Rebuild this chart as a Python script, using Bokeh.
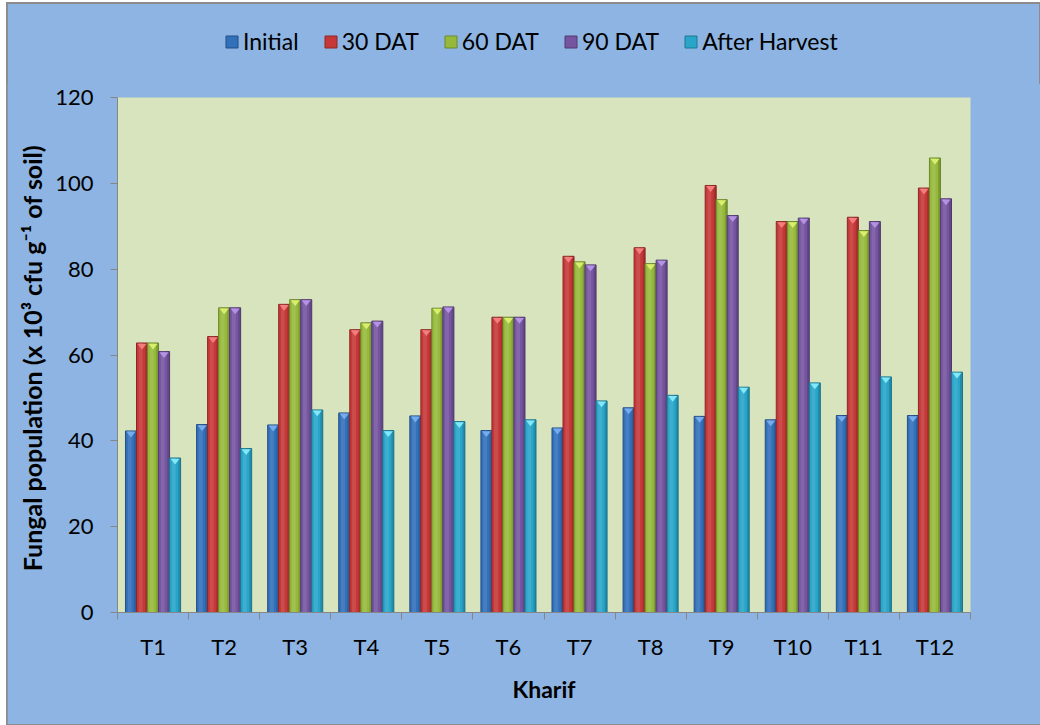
from bokeh.plotting import figure
from bokeh.layouts import column
from bokeh.models import FixedTicker, Legend, LegendItem, ColumnDataSource
from bokeh.embed import file_html
from bokeh.resources import INLINE

categories = ["T1", "T2", "T3", "T4", "T5", "T6", "T7", "T8", "T9", "T10", "T11", "T12"]
series_names = ["Initial", "30 DAT", "60 DAT", "90 DAT", "After Harvest"]
initial = [42.3, 43.8, 43.7, 46.5, 45.8, 42.4, 43.0, 47.7, 45.7, 44.9, 45.9, 45.9]
dat30 = [62.8, 64.3, 71.8, 65.9, 65.9, 68.8, 83.0, 85.0, 99.5, 91.1, 92.1, 98.9]
dat60 = [62.8, 71.0, 72.9, 67.5, 70.9, 68.8, 81.7, 81.3, 96.2, 91.1, 89.0, 105.9]
dat90 = [60.8, 71.0, 72.9, 67.9, 71.2, 68.8, 81.0, 82.1, 92.5, 91.9, 91.1, 96.4]
after_harvest = [36.0, 38.2, 47.2, 42.4, 44.5, 44.9, 49.3, 50.6, 52.5, 53.5, 54.9, 56.0]
y_ticks = [0, 20, 40, 60, 80, 100, 120]

series = [initial, dat30, dat60, dat90, after_harvest]
fills = ["#3370BA", "#C63838", "#96B93C", "#7555A0", "#28A5C8"]
edges = ["#234F85", "#8E2626", "#6A8A2A", "#523B73", "#1C7890"]
lights = ["#79AEF0", "#F58080", "#DDF070", "#B795E6", "#86EAFB"]

FONT = "Lato"
BG = "#8DB4E2"
PLOT_BG = "#D7E4BD"
AXIS = "#868686"

bw = 0.155
xs_by_series = [[i + 0.5 + (k - 2) * bw for i in range(len(categories))] for k in range(len(series))]

# ---- legend strip (top) ----
lg = figure(width=1033, height=80, output_backend="svg", toolbar_location=None,
            x_range=(0, len(categories)), y_range=(0, 120), x_axis_type=None, y_axis_type=None,
            min_border_left=110, min_border_right=70, min_border_top=0, min_border_bottom=0,
            background_fill_color=None, border_fill_color=None, outline_line_color=None)
lg.grid.visible = False
legend_renderers = []
for k in range(len(series)):
    r = lg.vbar(x=xs_by_series[k], top=series[k], width=bw,
                fill_color=fills[k], line_color=edges[k], visible=False)
    legend_renderers.append(r)
legend = Legend(items=[LegendItem(label=n, renderers=[r]) for n, r in zip(series_names, legend_renderers)],
                orientation="horizontal", location=(107, 28),
                glyph_width=15, glyph_height=15, label_standoff=4, spacing=24,
                padding=0, margin=0, border_line_color=None, background_fill_alpha=0,
                inactive_fill_alpha=0, click_policy="none",
                label_text_font=FONT, label_text_font_size="23px", label_text_color="black")
lg.add_layout(legend, "center")

# ---- main chart ----
p = figure(width=1033, height=641, output_backend="svg", toolbar_location=None,
           x_range=(0, len(categories)), y_range=(0, 120),
           min_border_left=110, min_border_right=70, min_border_top=14, min_border_bottom=112,
           background_fill_color=PLOT_BG, border_fill_color=BG, outline_line_color=None)
p.grid.visible = False

for k, vals in enumerate(series):
    xs = xs_by_series[k]
    src = ColumnDataSource(dict(x=xs, top=vals))
    p.vbar(x="x", top="top", width=bw, bottom=0, source=src,
           fill_color=fills[k], line_color=edges[k], line_width=1)
    # cylinder highlight
    p.vbar(x=[x - bw * 0.12 for x in xs], top=vals, width=bw * 0.35, bottom=0,
           fill_color="white", fill_alpha=0.10, line_color=None)
    p.vbar(x=[x + bw * 0.38 for x in xs], top=vals, width=bw * 0.2, bottom=0,
           fill_color="black", fill_alpha=0.15, line_color=None)
    # bevel cap triangle
    tx = [[x - bw * 0.42, x + bw * 0.42, x] for x in xs]
    ty = [[v - 0.15, v - 0.15, v - 1.5] for v in vals]
    p.patches(tx, ty, fill_color=lights[k], line_color=None, fill_alpha=0.95)

xax = p.xaxis[0]
xax.ticker = FixedTicker(ticks=[i + 0.5 for i in range(len(categories))],
                         minor_ticks=list(range(len(categories) + 1)))
xax.major_label_overrides = {i + 0.5: c for i, c in enumerate(categories)}
xax.major_tick_out = 0
xax.major_tick_in = 0
xax.minor_tick_out = 7
xax.minor_tick_in = 0
xax.minor_tick_line_color = AXIS
xax.axis_line_color = AXIS
xax.major_label_standoff = 13
xax.major_label_text_font = FONT
xax.major_label_text_font_size = "22px"
xax.major_label_text_color = "black"
xax.axis_label = "Kharif"
xax.axis_label_text_font = FONT
xax.axis_label_text_font_size = "23px"
xax.axis_label_text_font_style = "bold"
xax.axis_label_text_color = "black"
xax.axis_label_standoff = 12

yax = p.yaxis[0]
yax.ticker = FixedTicker(ticks=y_ticks)
yax.major_tick_out = 7
yax.major_tick_in = 0
yax.minor_tick_out = 0
yax.minor_tick_in = 0
yax.major_tick_line_color = AXIS
yax.axis_line_color = AXIS
yax.major_label_standoff = 17
yax.major_label_text_font = FONT
yax.major_label_text_font_size = "22px"
yax.major_label_text_color = "black"
yax.axis_label = "Fungal population (x 10\u00b3 cfu g\u207b\u00b9  of soil)"
yax.axis_label_text_font = FONT
yax.axis_label_text_font_size = "25px"
yax.axis_label_text_font_style = "bold"
yax.axis_label_text_color = "black"
yax.axis_label_standoff = 5

layout = column(lg, p, spacing=0)
layout.margin = (3, 0, 0, 7)
layout.styles = {"outline": "2px solid #8c8c8c", "outline-offset": "-1px",
                 "background-color": BG}

open("out.html", "w").write(file_html(layout, INLINE))
